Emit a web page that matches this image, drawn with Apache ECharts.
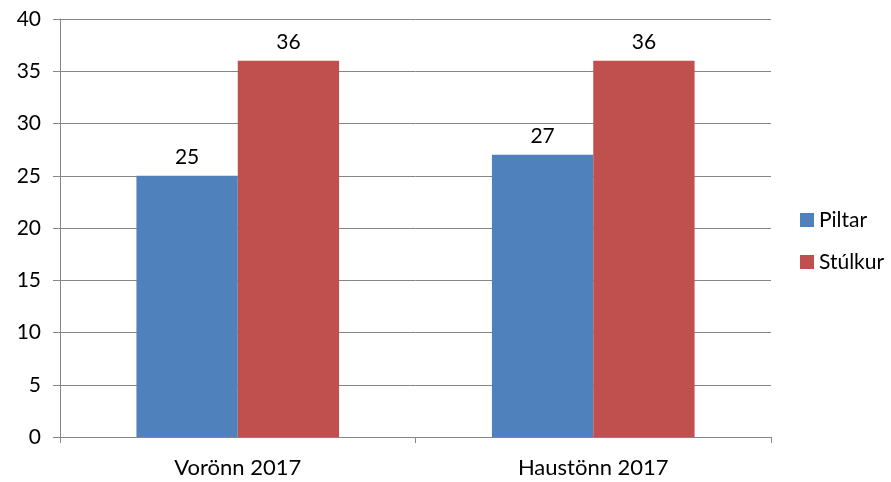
<!DOCTYPE html>
<html><head><meta charset="utf-8">
<script src="https://cdn.jsdelivr.net/npm/echarts@6/dist/echarts.min.js"></script>
<style>html,body{margin:0;padding:0;background:#fff}#c{width:891px;height:482px}</style>
</head><body><div id="c"></div>
<script>
const categories = ['Vorönn 2017', 'Haustönn 2017'];
const piltar = [25, 27];
const stulkur = [36, 36];
const seriesNames = ['Piltar', 'Stúlkur'];
const font = 'Lato, "Open Sans", sans-serif';
const chart = echarts.init(document.getElementById('c'));
const lbl = {show: true, position: 'top', distance: 8, color: '#000', fontSize: 21, fontFamily: font};
chart.setOption({
  animation: false,
  textStyle: {fontFamily: font},
  grid: {left: 60, right: 120, top: 19, bottom: 45, containLabel: false},
  legend: {
    orient: 'vertical', left: 795, top: 'middle', itemWidth: 14, itemHeight: 14, itemGap: 21,
    icon: 'rect', textStyle: {fontSize: 21, color: '#000', fontFamily: font}, data: seriesNames
  },
  xAxis: {
    type: 'category', data: categories,
    axisLine: {lineStyle: {color: '#868686'}},
    axisTick: {show: true, length: 6, lineStyle: {color: '#868686'}},
    axisLabel: {fontSize: 22, color: '#000', margin: 20, fontFamily: font}
  },
  yAxis: {
    type: 'value', min: 0, max: 40, interval: 5,
    axisLine: {show: true, lineStyle: {color: '#868686'}},
    axisTick: {show: true, length: 7, lineStyle: {color: '#868686'}},
    splitLine: {lineStyle: {color: '#868686'}},
    axisLabel: {fontSize: 21, color: '#000', margin: 19, fontFamily: font}
  },
  series: [
    {name: seriesNames[0], type: 'bar', data: piltar, itemStyle: {color: '#4F81BD'}, barGap: '0%', barCategoryGap: '43%', label: lbl},
    {name: seriesNames[1], type: 'bar', data: stulkur, itemStyle: {color: '#C0504D'}, barGap: '0%', barCategoryGap: '43%', label: lbl}
  ]
});
</script></body></html>
